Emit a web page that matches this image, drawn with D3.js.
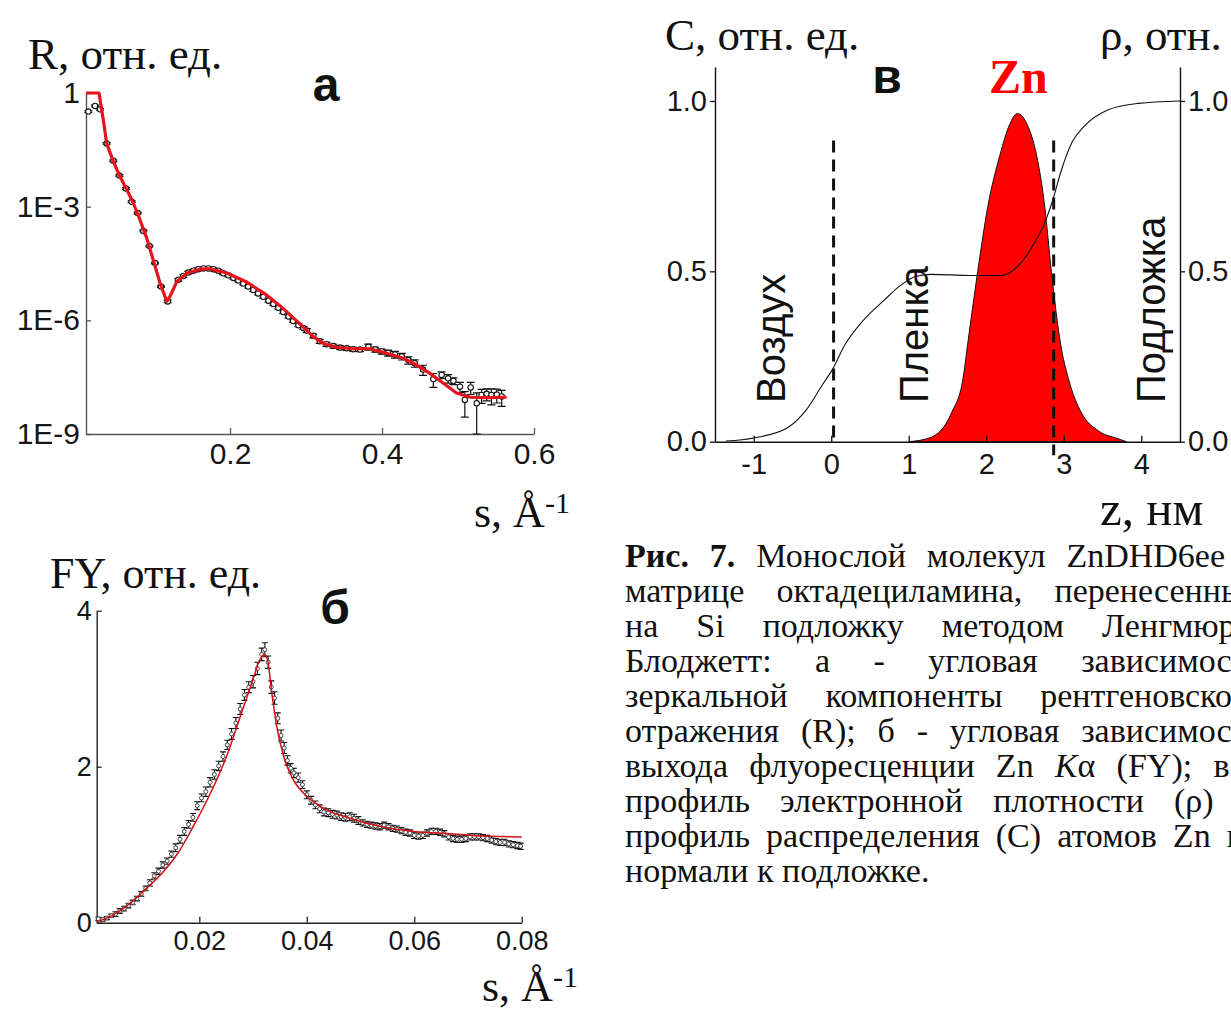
<!DOCTYPE html>
<html>
<head>
<meta charset="utf-8">
<script src="https://cdn.jsdelivr.net/npm/d3@7"></script>
<style>
  html, body { margin: 0; padding: 0; background: #fff; overflow: hidden; }
  svg { display: block; }
</style>
</head>
<body>
<svg id="fig" width="1231" height="1010"></svg>
<script>
// ---------------- data ----------------
// (а) X-ray specular reflectivity: measured points (s, log10 R, relative error) and model curve
const reflS = [0.0136,0.0224,0.0289,0.0377,0.0465,0.0544,0.0632,0.0706,0.0785,0.0860,
  0.0939,0.1013,0.1092,0.1180,0.1320,0.1386,0.1452,0.1518,0.1583,0.1650,
  0.1715,0.1780,0.1846,0.1910,0.1978,0.2044,0.2110,0.2175,0.2240,0.2307,
  0.2370,0.2439,0.2505,0.2570,0.2636,0.2700,0.2770,0.2830,0.2900,0.2965,
  0.3010,0.3096,0.3180,0.3270,0.3360,0.3450,0.3535,0.3620,0.3710,0.3820,
  0.3910,0.3996,0.4080,0.4170,0.4260,0.4346,0.4430,0.4540,0.4675,0.4785,
  0.4870,0.4940,0.5026,0.5090,0.5167,0.5246,0.5310,0.5377,0.5440,0.5510,0.5575];
const reflLogR = [-0.49,-0.34,-0.43,-1.33,-1.79,-2.18,-2.52,-2.87,-3.17,-3.64,
  -4.04,-4.49,-5.11,-5.50,-4.93,-4.83,-4.74,-4.69,-4.65,-4.63,
  -4.63,-4.65,-4.69,-4.76,-4.81,-4.88,-4.95,-5.03,-5.11,-5.20,
  -5.29,-5.38,-5.48,-5.57,-5.67,-5.78,-5.90,-6.02,-6.13,-6.20,
  -6.27,-6.41,-6.55,-6.63,-6.68,-6.72,-6.74,-6.76,-6.77,-6.70,
  -6.77,-6.82,-6.86,-6.90,-6.95,-7.05,-7.13,-7.30,-7.55,-7.44,
  -7.53,-7.60,-7.75,-8.10,-7.77,-8.19,-7.97,-7.94,-7.97,-7.96,-8.01];
const reflRelErr = [0.05,0.05,0.05,0.05,0.05,0.05,0.05,0.05,0.05,0.05,
  0.05,0.05,0.05,0.08,0.08,0.08,0.08,0.08,0.08,0.08,
  0.08,0.08,0.08,0.08,0.08,0.08,0.08,0.08,0.08,0.08,
  0.08,0.08,0.08,0.08,0.08,0.08,0.08,0.08,0.08,0.08,
  0.12,0.12,0.12,0.12,0.12,0.12,0.12,0.12,0.12,0.18,
  0.15,0.15,0.18,0.20,0.20,0.22,0.22,0.30,0.40,0.20,
  0.25,0.20,0.30,0.65,0.35,0.88,0.40,0.35,0.45,0.40,0.45];
const reflFitS = [0.0105,0.0276,0.0333,0.0377,0.0465,0.0553,0.0640,0.0728,0.0816,0.0904,
  0.0990,0.1080,0.1167,0.1210,0.1300,0.1430,0.1605,0.1737,0.1956,0.2220,
  0.2480,0.2660,0.2880,0.3096,0.3228,0.3400,0.3620,0.3840,0.4060,0.4280,
  0.4456,0.4630,0.4807,0.4980,0.5160,0.5377,0.5640];
const reflFitLogR = [0,0,-0.71,-1.33,-1.81,-2.21,-2.54,-2.91,-3.35,-3.83,
  -4.41,-5.02,-5.50,-5.37,-4.98,-4.76,-4.65,-4.64,-4.75,-4.99,
  -5.33,-5.62,-6.02,-6.43,-6.61,-6.71,-6.75,-6.75,-6.87,-7.00,
  -7.18,-7.40,-7.66,-7.92,-8.03,-8.04,-8.03];
const reflYTicks = [1, 1e-3, 1e-6, 1e-9];
const reflYTickLabels = ["1", "1E-3", "1E-6", "1E-9"];
const reflXTicks = [0.2, 0.4, 0.6];

// (б) Zn Kα fluorescence yield: measured points and model curve
const fyS = [0.0012,0.0020,0.0028,0.0036,0.0044,0.0052,0.0060,0.0068,0.0076,0.0084,
  0.0092,0.0100,0.0108,0.0116,0.0124,0.0132,0.0140,0.0148,0.0156,0.0164,
  0.0172,0.0180,0.0188,0.0196,0.0204,0.0212,0.0220,0.0228,0.0236,0.0244,
  0.0252,0.0260,0.0268,0.0276,0.0284,0.0292,0.0300,0.0308,0.0316,0.0322,
  0.0328,0.0334,0.0340,0.0346,0.0352,0.0358,0.0364,0.0370,0.0376,0.0384,
  0.0392,0.0400,0.0408,0.0416,0.0424,0.0432,0.0440,0.0448,0.0456,0.0464,
  0.0472,0.0480,0.0488,0.0496,0.0504,0.0512,0.0520,0.0528,0.0536,0.0544,
  0.0552,0.0560,0.0568,0.0576,0.0584,0.0592,0.0600,0.0608,0.0616,0.0624,
  0.0632,0.0640,0.0648,0.0656,0.0664,0.0672,0.0680,0.0688,0.0696,0.0704,
  0.0712,0.0720,0.0728,0.0736,0.0744,0.0752,0.0760,0.0768,0.0776,0.0784,
  0.0792,0.0798];
const fyVal = [0.05,0.04,0.06,0.09,0.11,0.15,0.18,0.22,0.26,0.31,
  0.37,0.44,0.51,0.60,0.66,0.74,0.79,0.88,0.96,1.07,
  1.17,1.26,1.35,1.50,1.60,1.68,1.80,1.90,2.01,2.13,
  2.28,2.42,2.56,2.74,2.92,3.02,3.09,3.26,3.44,3.50,
  3.34,3.02,2.88,2.62,2.40,2.24,2.08,1.98,1.92,1.86,
  1.77,1.64,1.57,1.51,1.46,1.42,1.41,1.39,1.38,1.36,
  1.35,1.36,1.34,1.31,1.28,1.26,1.25,1.24,1.23,1.25,
  1.23,1.21,1.20,1.18,1.16,1.15,1.12,1.11,1.12,1.15,
  1.17,1.17,1.16,1.14,1.10,1.08,1.07,1.07,1.08,1.10,
  1.10,1.10,1.09,1.08,1.06,1.04,1.03,1.03,1.01,1.00,
  0.99,0.98];
const fyErr = [0.02,0.02,0.02,0.02,0.03,0.03,0.03,0.03,0.03,0.03,
  0.03,0.03,0.04,0.04,0.04,0.04,0.04,0.04,0.05,0.05,
  0.05,0.05,0.05,0.05,0.05,0.06,0.06,0.06,0.06,0.06,
  0.06,0.07,0.07,0.07,0.07,0.07,0.08,0.08,0.08,0.09,
  0.08,0.08,0.08,0.07,0.07,0.07,0.06,0.06,0.06,0.06,
  0.05,0.05,0.05,0.05,0.05,0.05,0.05,0.05,0.05,0.05,
  0.05,0.05,0.05,0.05,0.04,0.04,0.04,0.04,0.04,0.04,
  0.04,0.04,0.04,0.04,0.04,0.04,0.04,0.04,0.04,0.04,
  0.04,0.04,0.04,0.04,0.04,0.04,0.04,0.04,0.04,0.04,
  0.04,0.04,0.04,0.04,0.04,0.04,0.04,0.04,0.04,0.04,
  0.04,0.04];
const fyFitS = [0.001,0.004,0.007,0.010,0.013,0.016,0.019,0.022,0.025,0.028,
  0.030,0.031,0.0321,0.0327,0.0335,0.0344,0.0357,0.0375,0.040,0.043,
  0.048,0.054,0.060,0.067,0.073,0.080];
const fyFitVal = [0.01,0.10,0.24,0.43,0.63,0.89,1.25,1.65,2.12,2.72,
  3.12,3.33,3.44,3.37,2.94,2.52,2.13,1.83,1.62,1.47,
  1.34,1.23,1.17,1.14,1.11,1.10];
const fyYTicks = [0, 2, 4];
const fyXTicks = [0.02, 0.04, 0.06, 0.08];

// (в) Zn distribution C(z) and electron density ρ(z)
const znZ = [1.00,1.29,1.55,1.70,1.76,1.89,2.02,2.175,2.30,2.40,
  2.53,2.65,2.755,2.84,2.96,3.06,3.23,3.44,3.71,3.81];
const znC = [0,0.013,0.084,0.185,0.286,0.50,0.69,0.84,0.93,0.963,
  0.93,0.84,0.69,0.50,0.286,0.185,0.084,0.033,0.008,0];
const rhoZ = [-1.36,-1.0,-0.57,-0.32,-0.12,0.01,0.18,0.39,0.69,0.89,
  1.09,1.29,1.80,2.20,2.40,2.60,2.75,2.86,2.96,3.11,
  3.26,3.56,3.96,4.50];
const rhoVal = [0.002,0.011,0.040,0.094,0.165,0.21,0.286,0.35,0.417,0.458,
  0.485,0.491,0.488,0.488,0.513,0.575,0.64,0.71,0.79,0.88,
  0.925,0.973,0.993,1.0];
const boundaryZ = [0.03, 2.87];          // interfaces air/film and film/substrate
const boundaryTop = [0.884, 0.884];
const boundaryBottom = [-0.005, -0.04];
const profYTicks = [0, 0.5, 1.0];
const profXTicks = [-1, 0, 1, 2, 3, 4];
const layerNames = ["Воздух", "Пленка", "Подложка"];
const layerZ = [-0.6, 1.25, 4.3];

const captionLines = [
  "**Рис.** **7.** Монослой молекул ZnDHD6ee в",
  "матрице октадециламина, перенесенный",
  "на Si подложку методом Ленгмюра-",
  "Блоджетт: а - угловая зависимость",
  "зеркальной компоненты рентгеновского",
  "отражения (R); б - угловая зависимость",
  "выхода флуоресценции Zn _K_α (FY); в -",
  "профиль электронной плотности (ρ) и",
  "профиль распределения (C) атомов Zn по",
  "нормали к подложке."
];

// ---------------- drawing ----------------
const svg = d3.select("#fig");
const serif = "'Liberation Serif','Times New Roman',serif";
const sans = "'Liberation Sans',Arial,sans-serif";

function styleAxis(g, size, color) {
  g.attr("font-size", size).attr("font-family", sans).attr("color", color);
  g.selectAll("path.domain").attr("stroke-width", 1.4);
  g.selectAll(".tick line").attr("stroke-width", 1.3);
  g.selectAll(".tick text").attr("fill", "#161616");
}

function axisTitle(x, y, text, size) {
  return svg.append("text").attr("x", x).attr("y", y)
    .attr("font-family", serif).attr("font-size", size).attr("fill", "#111").text(text);
}

function sTitle(x, y) {
  const t = svg.append("text").attr("x", x).attr("y", y)
    .attr("font-family", serif).attr("font-size", 44).attr("fill", "#111");
  t.append("tspan").text("s, Å");
  t.append("tspan").attr("font-size", 30).attr("dy", -14).text("-1");
}

function panelLetter(x, y, ch, color) {
  svg.append("text").attr("x", x).attr("y", y).attr("text-anchor", "middle")
    .attr("font-family", sans).attr("font-weight", "bold").attr("font-size", 48)
    .attr("fill", color || "#111").text(ch);
}

// ===== panel а =====
const xA = d3.scaleLinear().domain([0.0105, 0.6]).range([86, 534]);
const yA = d3.scaleLog().domain([1e-9, 1]).range([434, 93]);

const gAy = svg.append("g").attr("transform", `translate(${xA.range()[0]},0)`)
  .call(d3.axisLeft(yA).tickValues(reflYTicks).tickFormat((d, i) => reflYTickLabels[i])
    .tickSizeInner(-5).tickSizeOuter(0).tickPadding(6));
styleAxis(gAy, 30, "#555");
const gAx = svg.append("g").attr("transform", `translate(0,${yA.range()[0]})`)
  .call(d3.axisBottom(xA).tickValues(reflXTicks).tickFormat(d3.format(".1f"))
    .tickSizeInner(-6).tickSizeOuter(0).tickPadding(9));
styleAxis(gAx, 30, "#555");

const reflPts = reflS.map((s, i) => ({ s, r: Math.pow(10, reflLogR[i]), e: reflRelErr[i] }));
const gAerr = svg.append("g").attr("stroke", "#111").attr("stroke-width", 1.2).attr("fill", "none");
gAerr.selectAll("path").data(reflPts).join("path")
  .attr("d", d => {
    const x = xA(d.s);
    const y1 = yA(Math.min(1, d.r * (1 + d.e)));
    const y0 = yA(Math.max(1e-9, d.r * (1 - d.e)));
    return `M${x - 4},${y1}H${x + 4}M${x},${y1}V${y0}M${x - 4},${y0}H${x + 4}`;
  });
svg.append("g").selectAll("circle").data(reflPts).join("circle")
  .attr("cx", d => xA(d.s)).attr("cy", d => yA(d.r)).attr("r", 2.7)
  .attr("fill", "#fff").attr("stroke", "#111").attr("stroke-width", 1.1);

const reflFit = reflFitS.map((s, i) => [s, Math.pow(10, reflFitLogR[i])]);
svg.append("path").datum(reflFit)
  .attr("d", d3.line().x(d => xA(d[0])).y(d => yA(d[1])).curve(d3.curveLinear))
  .attr("fill", "none").attr("stroke", "#e8121c").attr("stroke-width", 3.2)
  .attr("stroke-linejoin", "round");

axisTitle(28, 69, "R, отн. ед.", 45);
panelLetter(326, 101, "а");
sTitle(474, 527);

// ===== panel б =====
const xB = d3.scaleLinear().domain([0.0009, 0.08]).range([96.7, 521.7]);
const yB = d3.scaleLinear().domain([0, 4]).range([922.7, 610.7]);

const gBy = svg.append("g").attr("transform", `translate(${xB.range()[0]},0)`)
  .call(d3.axisLeft(yB).tickValues(fyYTicks).tickFormat(d3.format("d"))
    .tickSizeInner(-5).tickSizeOuter(0).tickPadding(5));
styleAxis(gBy, 27, "#222");
const gBx = svg.append("g").attr("transform", `translate(0,${yB.range()[0]})`)
  .call(d3.axisBottom(xB).tickValues(fyXTicks).tickFormat(d3.format(".2f"))
    .tickSizeInner(-6).tickSizeOuter(0).tickPadding(8));
styleAxis(gBx, 27, "#222");

const fyPts = fyS.map((s, i) => ({ s, v: fyVal[i], e: fyErr[i] }));
const gBerr = svg.append("g").attr("stroke", "#111").attr("stroke-width", 1.1).attr("fill", "none");
gBerr.selectAll("path").data(fyPts).join("path")
  .attr("d", d => {
    const x = xB(d.s), y1 = yB(d.v + d.e), y0 = yB(Math.max(0, d.v - d.e));
    return `M${x - 3},${y1}H${x + 3}M${x},${y1}V${y0}M${x - 3},${y0}H${x + 3}`;
  });
svg.append("g").selectAll("circle").data(fyPts).join("circle")
  .attr("cx", d => xB(d.s)).attr("cy", d => yB(d.v)).attr("r", 2)
  .attr("fill", "#fff").attr("stroke", "#333").attr("stroke-width", 0.9);

svg.append("path").datum(fyFitS.map((s, i) => [s, fyFitVal[i]]))
  .attr("d", d3.line().x(d => xB(d[0])).y(d => yB(d[1])).curve(d3.curveMonotoneX))
  .attr("fill", "none").attr("stroke", "#d20f14").attr("stroke-width", 1.5);

axisTitle(50, 588, "FY, отн. ед.", 44);
panelLetter(335, 624, "б");
sTitle(482, 1001);

// ===== panel в =====
const xC = d3.scaleLinear().domain([-1.5, 4.5]).range([715, 1180]);
const yC = d3.scaleLinear().domain([0, 1.1]).range([441.7, 66.9]);

svg.append("path").datum(znZ.map((z, i) => [z, znC[i]]))
  .attr("d", d3.area().x(d => xC(d[0])).y0(yC(0)).y1(d => yC(d[1])).curve(d3.curveMonotoneX))
  .attr("fill", "#ff0000").attr("stroke", "#111").attr("stroke-width", 1);

svg.append("path").datum(rhoZ.map((z, i) => [z, rhoVal[i]]))
  .attr("d", d3.line().x(d => xC(d[0])).y(d => yC(d[1])).curve(d3.curveMonotoneX))
  .attr("fill", "none").attr("stroke", "#111").attr("stroke-width", 1.1);

svg.append("g").selectAll("line").data(boundaryZ).join("line")
  .attr("x1", d => xC(d)).attr("x2", d => xC(d))
  .attr("y1", (d, i) => yC(boundaryTop[i])).attr("y2", (d, i) => yC(boundaryBottom[i]))
  .attr("stroke", "#111").attr("stroke-width", 3).attr("stroke-dasharray", "12,7");

const fmt1 = d3.format(".1f");
const gCl = svg.append("g").attr("transform", `translate(${xC.range()[0]},0)`)
  .call(d3.axisLeft(yC).tickValues(profYTicks).tickFormat(fmt1)
    .tickSizeInner(5).tickSizeOuter(0).tickPadding(3));
styleAxis(gCl, 29, "#111");
const gCr = svg.append("g").attr("transform", `translate(${xC.range()[1]},0)`)
  .call(d3.axisRight(yC).tickValues(profYTicks).tickFormat(fmt1)
    .tickSizeInner(5).tickSizeOuter(0).tickPadding(3));
styleAxis(gCr, 29, "#111");
const gCx = svg.append("g").attr("transform", `translate(0,${yC.range()[0]})`)
  .call(d3.axisBottom(xC).tickValues(profXTicks).tickFormat(d => String(d))
    .tickSizeInner(-6).tickSizeOuter(0).tickPadding(12));
styleAxis(gCx, 29, "#111");

// layer names written vertically
svg.append("g").selectAll("text").data(layerNames).join("text")
  .attr("transform", (d, i) => `translate(${xC(layerZ[i])},403) rotate(-90)`)
  .attr("font-family", sans).attr("font-size", 40).attr("fill", "#111")
  .text(d => d);

axisTitle(665, 50, "C, отн. ед.", 45);
axisTitle(1100, 50, "ρ, отн. ед.", 45);
panelLetter(887, 93, "в");
svg.append("text").attr("x", 989).attr("y", 93)
  .attr("font-family", serif).attr("font-weight", "bold").attr("font-size", 48)
  .attr("fill", "#ff0000").text("Zn");
axisTitle(1100, 525, "z, нм", 49);

// ===== caption (justified, runs past the right edge) =====
const capX0 = 625, capX1 = 1262, capY0 = 567, capStep = 35;
function segments(word) {
  const out = [];
  const re = /\*\*(.+?)\*\*|_(.+?)_|([^*_]+)/g;
  let m;
  while ((m = re.exec(word))) {
    if (m[1]) out.push({ t: m[1], b: true });
    else if (m[2]) out.push({ t: m[2], i: true });
    else out.push({ t: m[3] });
  }
  return out;
}
const capG = svg.append("g").attr("font-family", serif).attr("font-size", 34).attr("fill", "#111");
captionLines.forEach((line, li) => {
  const words = line.split(" ");
  const y = capY0 + li * capStep;
  const nodes = words.map(w => {
    const t = capG.append("text").attr("y", y);
    segments(w).forEach(sg => {
      const ts = t.append("tspan").text(sg.t);
      if (sg.b) ts.attr("font-weight", "bold");
      if (sg.i) ts.attr("font-style", "italic");
    });
    return t;
  });
  const widths = nodes.map(n => n.node().getComputedTextLength());
  const last = li === captionLines.length - 1;
  const total = d3.sum(widths);
  const gap = last ? 8.5 : (capX1 - capX0 - total) / (words.length - 1);
  let x = capX0;
  nodes.forEach((n, i) => { n.attr("x", x); x += widths[i] + gap; });
});
</script>
</body>
</html>
